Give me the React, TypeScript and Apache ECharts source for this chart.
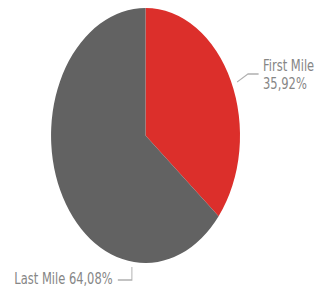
import React, { useEffect, useRef } from "react";
import * as echarts from "echarts";

const categories = ["First Mile", "Last Mile"];
const values = [35.92, 64.08];
const valueLabels = ["35,92%", "64,08%"];
const colors = ["#dc2f2b", "#626262"];

const SCALE_X = 0.741;
const W = 318 / SCALE_X;
const H = 289;

export default function App() {
  const ref = useRef<HTMLDivElement>(null);
  useEffect(() => {
    if (!ref.current) return;
    const chart = echarts.init(ref.current, undefined, { renderer: "svg", width: W, height: H });
    chart.setOption({
      animation: false,
      backgroundColor: "#ffffff",
      series: [
        {
          type: "pie",
          center: [196.4, 135.5],
          radius: 127.5,
          startAngle: 90,
          clockwise: true,
          data: categories.map((c, i) => ({
            name: c,
            value: values[i],
            itemStyle: { color: colors[i] },
            label:
              i === 0
                ? { formatter: `${c}\n${valueLabels[i]}` }
                : { formatter: `${c} ${valueLabels[i]}` },
          })),
          label: {
            show: true,
            position: "outside",
            color: "#868686",
            fontFamily: "DejaVu Sans",
            fontSize: 15.5,
            lineHeight: 18,
            overflow: "none",
            edgeDistance: 0,
            bleedMargin: 0,
          },
          labelLine: {
            show: true,
            length: 20,
            length2: 15,
            lineStyle: { color: "#b0b0b0", width: 1.3 },
          },
          labelLayout: (params: any) => {
            if (params.dataIndex === 0) {
              return {
                x: 355,
                y: 74,
                align: "left",
                verticalAlign: "middle",
                labelLinePoints: [
                  [320, 82],
                  [334.7, 74],
                  [349, 74],
                ],
              };
            }
            return {
              x: 152,
              y: 278.5,
              align: "right",
              verticalAlign: "middle",
              labelLinePoints: [
                [178, 267],
                [178, 280],
                [159, 280],
              ],
            };
          },
          emphasis: { disabled: true },
        },
      ],
    });
    return () => chart.dispose();
  }, []);
  return (
    <div
      style={{
        position: "fixed",
        left: 0,
        top: 0,
        width: W,
        height: H,
        transform: `scaleX(${SCALE_X})`,
        transformOrigin: "0 0",
        background: "#fff",
      }}
    >
      <div ref={ref} style={{ width: W, height: H }} />
    </div>
  );
}
